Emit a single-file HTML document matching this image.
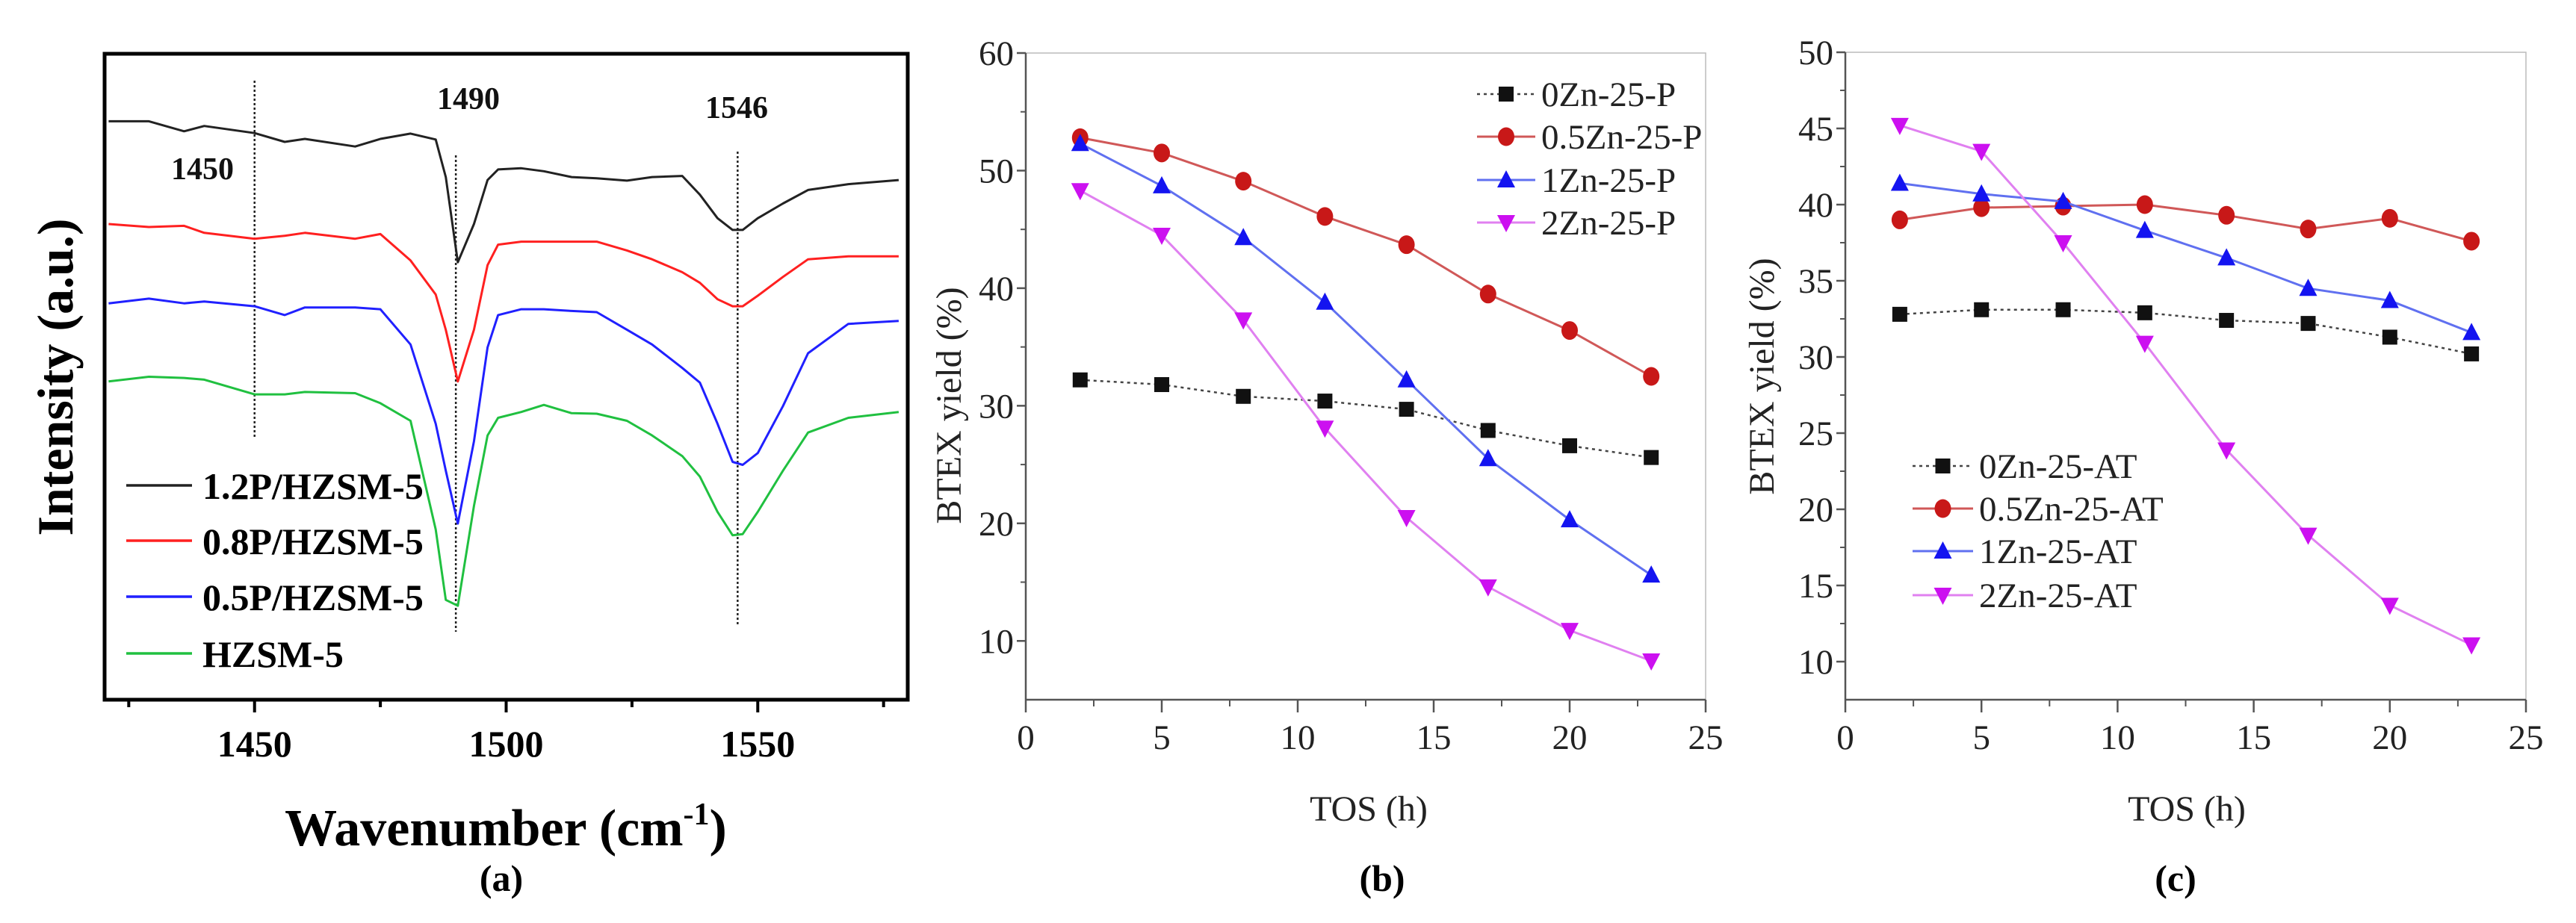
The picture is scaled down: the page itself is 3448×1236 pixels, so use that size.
<!DOCTYPE html>
<html><head><meta charset="utf-8"><style>
html,body{margin:0;padding:0;background:#fff;}
svg{display:block;}
</style></head><body>
<svg id="fig" width="3448" height="1236" viewBox="0 0 3448 1236" xmlns="http://www.w3.org/2000/svg"></svg>
<script>
// ---------- Panel (a) data ----------
const wavenumbers = [1421,1429,1436,1440,1450,1456,1460,1470,1475,1481,1486,1488,1490.4,1493.6,1496.3,1498.4,1503,1507.5,1513,1518,1524,1529,1535,1538.5,1542,1545,1547,1550,1555,1560,1568,1578];
const int12P = [98.5,98.5,96.8,97.7,96.5,95,95.5,94.2,95.5,96.4,95.4,89,74.5,81,88.5,90.3,90.5,90,89,88.8,88.4,89,89.2,86,82,80,80,82,84.5,86.8,87.8,88.5];
const int08P = [81,80.5,80.7,79.5,78.5,79,79.5,78.5,79.3,74.8,69,63,54.2,63,74,77.5,78,78,78,78,76.5,75,72.8,71,68.2,67,67,68.8,72,75,75.5,75.5];
const int05P = [67.5,68.3,67.5,67.8,67,65.5,66.8,66.8,66.5,60.5,47,39,30,44,60,65.5,66.5,66.5,66.2,66,63,60.5,56.5,54,47,40.5,40,42,50,59,64,64.5];
const intHZ = [54.2,55,54.8,54.5,52,52,52.4,52.2,50.5,47.5,29,17,16,33,45,48,49,50.2,48.8,48.7,47.5,45,41.5,38,32,28,28.2,32,39,45.5,48,49];
const aTicks = [1450,1500,1550];
const aMinor = [1425,1475,1525,1575];
const peakPositions = [1450,1490,1546];
const aLegend = ["1.2P/HZSM-5","0.8P/HZSM-5","0.5P/HZSM-5","HZSM-5"];

// ---------- Panel (b) data ----------
const tosHours = [2,5,8,11,14,17,20,23];
const b0Zn = [32.2,31.8,30.8,30.4,29.7,27.9,26.6,25.6];
const b05Zn = [52.8,51.5,49.1,46.1,43.7,39.5,36.4,32.5];
const b1Zn = [52.3,48.7,44.3,38.8,32.2,25.5,20.3,15.6];
const b2Zn = [48.3,44.5,37.3,28.1,20.5,14.6,10.9,8.3];
const bYTicks = [10,20,30,40,50,60];
const bLegend = ["0Zn-25-P","0.5Zn-25-P","1Zn-25-P","2Zn-25-P"];

// ---------- Panel (c) data ----------
const c0Zn = [32.8,33.1,33.1,32.9,32.4,32.2,31.3,30.2];
const c05Zn = [39.0,39.8,39.9,40.0,39.3,38.4,39.1,37.6];
const c1Zn = [41.4,40.7,40.2,38.3,36.5,34.5,33.7,31.6];
const c2Zn = [45.2,43.5,37.5,30.9,23.9,18.3,13.7,11.1];
const cYTicks = [10,15,20,25,30,35,40,45,50];
const cLegend = ["0Zn-25-AT","0.5Zn-25-AT","1Zn-25-AT","2Zn-25-AT"];
const xTicks = [0,5,10,15,20,25];

const NS = "http://www.w3.org/2000/svg";
const svg = document.getElementById('fig');
function mk(tag, attrs, parent, text){
  const e = document.createElementNS(NS, tag);
  for (const k in attrs) e.setAttribute(k, attrs[k]);
  if (text !== undefined) e.textContent = text;
  (parent || svg).appendChild(e);
  return e;
}
function lin(d0,d1,r0,r1){ return v => r0 + (v-d0)*(r1-r0)/(d1-d0); }

// ================= Panel (a) =================
const ga = mk('g', {});


const ax = lin(1420.2, 1579.8, 140, 1215);
const ay = lin(0, 110, 937, 72);
const serif = '"Liberation Serif", serif';
const guideRanges = [[108,586],[208,846],[203,839]];
peakPositions.forEach((p,i)=>{
  const l = mk('line',{x1:ax(p),x2:ax(p),y1:guideRanges[i][0],y2:guideRanges[i][1],stroke:'#222','stroke-width':2.5,'stroke-dasharray':'3,3'},ga);
  
  
});
const peakLabelPos = [[271,240],[627,146],[986,158]];
peakPositions.forEach((p,i)=>{
  const t = mk('text',{x:peakLabelPos[i][0],y:peakLabelPos[i][1],'font-family':serif,'font-weight':'bold','font-size':42,fill:'#111','text-anchor':'middle'},ga,String(p));
  
  
});
const aSeries = [int12P,int08P,int05P,intHZ];
const aColors = ['#222','#ff2020','#2020ff','#20c040'];
aSeries.forEach((s,i)=>{
  const d = s.map((v,j)=>(j?'L':'M')+ax(wavenumbers[j]).toFixed(1)+','+ay(v).toFixed(1)).join(' ');
  const p = mk('path',{d:d,fill:'none',stroke:aColors[i],'stroke-width':3,'stroke-linejoin':'round'},ga);
  
  
});
const fr = mk('rect',{x:140,y:72,width:1075,height:865,fill:'none',stroke:'#000','stroke-width':5},ga);


aTicks.forEach(t=>{
  mk('line',{x1:ax(t),x2:ax(t),y1:937,y2:954,stroke:'#000','stroke-width':4},ga);
  const tl = mk('text',{x:ax(t),y:1013,'font-family':serif,'font-weight':'bold','font-size':50,'text-anchor':'middle'},ga,String(t));
  
  
});
aMinor.forEach(t=>{ mk('line',{x1:ax(t),x2:ax(t),y1:937,y2:947,stroke:'#000','stroke-width':4},ga); });
const axt = mk('text',{x:677,y:1132,'font-family':serif,'font-weight':'bold','font-size':70,'text-anchor':'middle'},ga);


axt.appendChild(document.createTextNode('Wavenumber (cm'));
mk('tspan',{dy:-28,'font-size':42},axt,'-1');
mk('tspan',{dy:28},axt,')');
const ayt = mk('text',{x:0,y:0,transform:'translate(97,505) rotate(-90)','font-family':serif,'font-weight':'bold','font-size':68,'text-anchor':'middle'},ga,'Intensity (a.u.)');


const aLegY = [650,724,799,875];
aLegend.forEach((n,i)=>{
  const g = mk('g',{},ga);
  
  
  mk('line',{x1:169,x2:257,y1:aLegY[i],y2:aLegY[i],stroke:aColors[i],'stroke-width':3.5},g);
  mk('text',{x:271,y:aLegY[i]+18,'font-family':serif,'font-weight':'bold','font-size':50},g,n);
});
const cap = mk('text',{x:671,y:1193,'font-family':serif,'font-weight':'bold','font-size':50,'text-anchor':'middle'},ga,'(a)');



// ================= Panels (b) and (c) =================
const seriesColors = ['#111','#c81818','#1414f0','#cc10f0'];
const lineColors = ['#444','#d05858','#6070f0','#e080f0'];
const markerShapes = ['square','circle','up','down'];
function marker(g, shape, x, y, color){
  const s = 11;
  if (shape==='square') return mk('rect',{x:x-s+1,y:y-s+1,width:2*s-2,height:2*s-2,fill:color},g);
  if (shape==='circle') return mk('ellipse',{cx:x,cy:y,rx:s,ry:s+1.5,fill:color},g);
  if (shape==='up') return mk('polygon',{points:`${x},${y-s-2} ${x-s-1},${y+s-1} ${x+s+1},${y+s-1}`,fill:color},g);
  return mk('polygon',{points:`${x},${y+s+2} ${x-s-1},${y-s+1} ${x+s+1},${y-s+1}`,fill:color},g);
}
function panel(cfg){
  const g = mk('g',{});
  
  
  const X = lin(0,25,cfg.l,cfg.r), Y = lin(cfg.ymin,cfg.ymax,cfg.b,cfg.t);
  const box = mk('rect',{x:cfg.l,y:cfg.t,width:cfg.r-cfg.l,height:cfg.b-cfg.t,fill:'none',stroke:'#bbb','stroke-width':1.5},g);
  
  
  mk('line',{x1:cfg.l,x2:cfg.l,y1:cfg.t,y2:cfg.b,stroke:'#555','stroke-width':2.5},g);
  mk('line',{x1:cfg.l,x2:cfg.r,y1:cfg.b,y2:cfg.b,stroke:'#555','stroke-width':2.5},g);
  xTicks.forEach(t=>{
    mk('line',{x1:X(t),x2:X(t),y1:cfg.b,y2:cfg.b+17,stroke:'#555','stroke-width':2.5},g);
    if (t<25) mk('line',{x1:X(t+2.5),x2:X(t+2.5),y1:cfg.b,y2:cfg.b+9,stroke:'#555','stroke-width':2},g);
    const tl = mk('text',{x:X(t),y:cfg.b+66,'font-family':serif,'font-size':47,'text-anchor':'middle',fill:'#222'},g,String(t));
    
    
  });
  cfg.yt.forEach((t,i)=>{
    mk('line',{x1:cfg.l-12,x2:cfg.l,y1:Y(t),y2:Y(t),stroke:'#555','stroke-width':2.5},g);
    const m = t - cfg.ystep/2;
    if (m>cfg.ymin) mk('line',{x1:cfg.l-7,x2:cfg.l,y1:Y(m),y2:Y(m),stroke:'#555','stroke-width':2},g);
    const tl = mk('text',{x:cfg.l-16,y:Y(t)+16,'font-family':serif,'font-size':47,'text-anchor':'end',fill:'#222'},g,String(t));
    
    
  });
  const yt = mk('text',{x:0,y:0,transform:`translate(${cfg.ytx},${cfg.yty}) rotate(-90)`,'font-family':serif,'font-size':48,'text-anchor':'middle',fill:'#222'},g,'BTEX yield (%)');
  
  
  const xt = mk('text',{x:cfg.xtx,y:1099,'font-family':serif,'font-size':48,'text-anchor':'middle',fill:'#222'},g,'TOS (h)');
  
  
  const pl = mk('text',{x:cfg.capx,y:1193,'font-family':serif,'font-weight':'bold','font-size':50,'text-anchor':'middle'},g,cfg.cap);
  
  
  cfg.series.forEach((s,i)=>{
    const sg = mk('g',{},g);
    
    
    const pts = s.map((v,j)=>X(tosHours[j]).toFixed(1)+','+Y(v).toFixed(1)).join(' ');
    const pla = {points:pts,fill:'none',stroke:lineColors[i],'stroke-width':i===0?2.5:3};
    if (i===0) pla['stroke-dasharray']='4,5';
    mk('polyline',pla,sg);
    s.forEach((v,j)=>{
      const m = marker(sg, markerShapes[i], X(tosHours[j]), Y(v), seriesColors[i]);
      
      
    });
  });
  cfg.legend.forEach((n,i)=>{
    const lg = mk('g',{},g);
    
    
    const y = cfg.legY[i];
    const la = {x1:cfg.legX0,x2:cfg.legX1,y1:y,y2:y,stroke:lineColors[i],'stroke-width':i===0?2.5:3};
    if (i===0) la['stroke-dasharray']='4,5';
    mk('line',la,lg);
    marker(lg, markerShapes[i], (cfg.legX0+cfg.legX1)/2, y, seriesColors[i]);
    mk('text',{x:cfg.legX1+8,y:y+16,'font-family':serif,'font-size':47,fill:'#222'},lg,n);
  });
}
panel({name:'panel-b',l:1373,r:2283,t:71,b:937,ymin:5,ymax:60,ystep:10,yt:bYTicks,
  series:[b0Zn,b05Zn,b1Zn,b2Zn],legend:bLegend,legY:[126,183,241,298],legX0:1977,legX1:2055,
  ytx:1286,yty:543,xtx:1832,capx:1850,cap:'(b)'});
panel({name:'panel-c',l:2470,r:3381,t:70,b:937,ymin:7.5,ymax:50,ystep:5,yt:cYTicks,
  series:[c0Zn,c05Zn,c1Zn,c2Zn],legend:cLegend,legY:[624,681,738,797],legX0:2560,legX1:2641,
  ytx:2374,yty:504,xtx:2927,capx:2912,cap:'(c)'});
</script>
</body></html>
